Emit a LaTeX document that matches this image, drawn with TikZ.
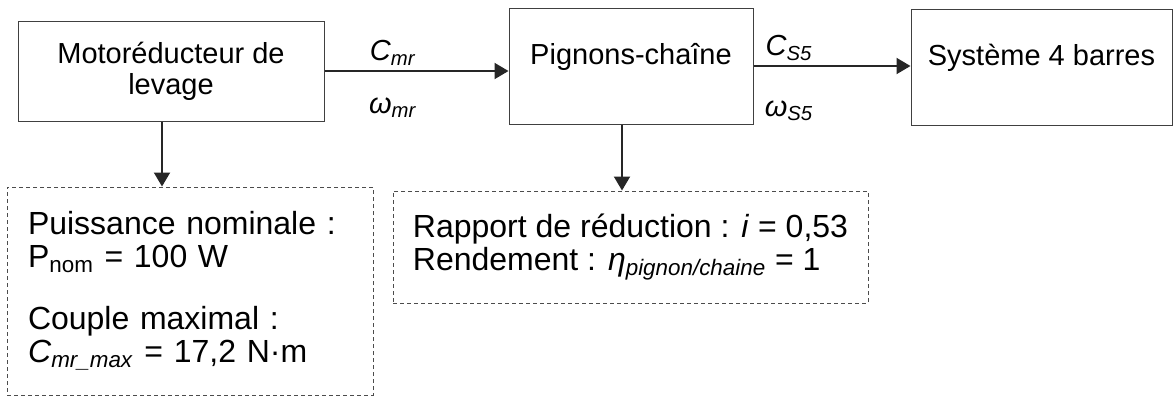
\documentclass[tikz,border=0pt]{standalone}
\usepackage{fontspec}
\setmainfont{Liberation Sans}
\usetikzlibrary{shapes,backgrounds}
\usetikzlibrary{arrows.meta}

\tikzset{
  boite/.style={draw=black!75, line width=0.5pt, align=center,
    font=\fontsize{14.5}{15.5}\selectfont},
  haute/.style={text height=11pt, text depth=12.6pt},
  note/.style={draw=black!70, line width=0.5pt, dash pattern=on 2pt off 1.5pt,
    align=left, font=\fontsize{16}{16.5}\selectfont},
  fleche/.style={-{Triangle[length=7pt,width=8pt]}, line width=1pt, black!85},
  grandeur/.style={font=\fontsize{14.5}{15.5}\selectfont, inner sep=0pt}
}

\begin{document}
\begin{tikzpicture}[x=0.5pt, y=-0.5pt]
      \useasboundingbox (0,0) rectangle (1173,397);
      \node [boite, minimum width=153pt, minimum height=50pt] (m1) at (171,71) {Motoréducteur de\\levage};
      \node [boite, haute, minimum width=122pt, minimum height=58pt] (p2) at (631,66) {Pignons-chaîne};
      \node [boite, haute, minimum width=130.5pt, minimum height=58pt] (s3) at (1041.5,67) {Système 4 barres};

      \node [note, minimum width=183pt, minimum height=104pt, text width=162pt, inner xsep=10.5pt] (d1) at (190,291)
        {Puissance nominale :\\P\textsubscript{nom} = 100 W\\[14.5pt]
         Couple maximal :\\\textit{C}\textsubscript{\textit{mr\_max}} = 17,2 N·m};
      \node [note, minimum width=237.5pt, minimum height=56pt] (d2) at (630.5,247)
        {Rapport de réduction : \textit{i} = 0,53\\Rendement : \textit{η}\textsubscript{\textit{pignon/chaine}} = 1};

      \draw [fleche] (m1.east) -- (m1.east -| p2.west);
      \draw [fleche] (p2.east) -- (p2.east -| s3.west);
      \draw [fleche] ([xshift=-4.5pt]m1.south) -- ([xshift=-4.5pt]m1.south |- d1.north);
      \draw [fleche] ([xshift=-4.5pt]p2.south) -- ([xshift=-4.5pt]p2.south |- d2.north);

      \node [grandeur] (cmr) at (393,53) {\textit{C}\textsubscript{\textit{mr}}};
      \node [grandeur] (wmr) at (393,108) {\textit{ω}\textsubscript{\textit{mr}}};
      \node [grandeur] (cs5) at (789,48) {\textit{C}\textsubscript{\textit{S5}}};
      \node [grandeur] (ws5) at (789,111) {\textit{ω}\textsubscript{\textit{S5}}};
\end{tikzpicture}
\end{document}
